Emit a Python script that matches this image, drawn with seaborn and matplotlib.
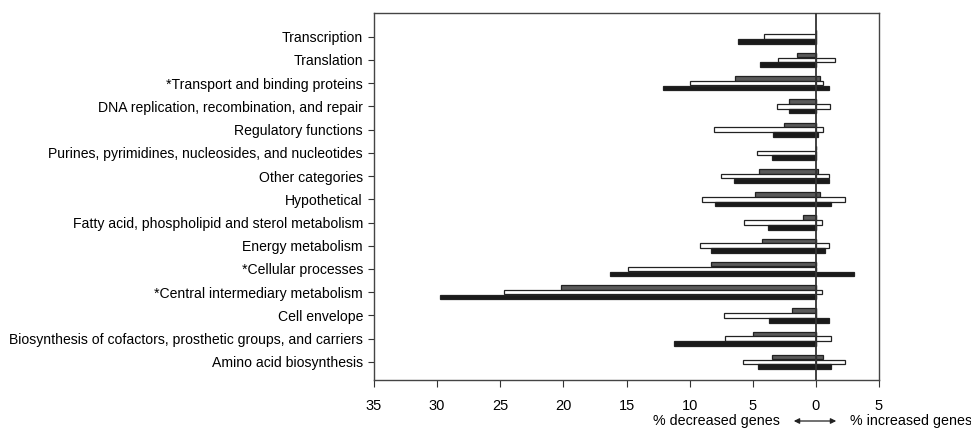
import matplotlib
matplotlib.use("Agg")
import matplotlib.pyplot as plt
import seaborn as sns
import pandas as pd
import numpy as np

categories = [
    "Transcription",
    "Translation",
    "*Transport and binding proteins",
    "DNA replication, recombination, and repair",
    "Regulatory functions",
    "Purines, pyrimidines, nucleosides, and nucleotides",
    "Other categories",
    "Hypothetical",
    "Fatty acid, phospholipid and sterol metabolism",
    "Energy metabolism",
    "*Cellular processes",
    "*Central intermediary metabolism",
    "Cell envelope",
    "Biosynthesis of cofactors, prosthetic groups, and carriers",
    "Amino acid biosynthesis",
]
series = ["A", "B", "C"]

# % decreased genes per series (gray, white, black)
dec_a = [0, 1.5, 6.4, 2.1, 2.5, 0, 4.5, 4.8, 1.0, 4.3, 8.3, 20.2, 1.9, 5.0, 3.5]
dec_b = [4.1, 3.0, 10.0, 3.1, 8.1, 4.7, 7.5, 9.0, 5.7, 9.2, 14.9, 24.7, 7.3, 7.2, 5.8]
dec_c = [6.2, 4.4, 12.1, 2.1, 3.4, 3.5, 6.5, 8.0, 3.8, 8.3, 16.3, 29.8, 3.7, 11.2, 4.6]
# % increased genes per series
inc_a = [0, 0, 0.3, 0, 0, 0, 0.2, 0.3, 0, 0, 0, 0, 0, 0, 0.6]
inc_b = [0, 1.5, 0.6, 1.1, 0.6, 0, 1.0, 2.3, 0.5, 1.0, 0, 0.5, 0, 1.2, 2.3]
inc_c = [0, 0, 1.0, 0, 0.2, 0, 1.0, 1.2, 0, 0.7, 3.0, 0, 1.0, 0, 1.2]

rows = []
for s, d, i in zip(series, [dec_a, dec_b, dec_c], [inc_a, inc_b, inc_c]):
    for c, dv, iv in zip(categories, d, i):
        rows.append({"category": c, "series": s, "dec": -dv, "inc": iv})
df = pd.DataFrame(rows)

plt.rcParams["font.family"] = ["Liberation Sans", "DejaVu Sans"]
fig = plt.figure(figsize=(9.71, 4.38), dpi=100)
ax = fig.add_axes([374 / 971, 1 - 380 / 438, 505 / 971, (380 - 13.5) / 438])

palette = {"A": "#5a5a5a", "B": "white", "C": "#1a1a1a"}
for col in ["dec", "inc"]:
    sns.barplot(data=df, x=col, y="category", hue="series", order=categories,
                hue_order=series, palette=palette, orient="h", width=0.62,
                gap=0.05, edgecolor="#222222", linewidth=0.9, legend=False, ax=ax)

ax.axvline(0, color="#333333", lw=1.3, zorder=5)
ax.set_xlim(-35, 5)
ax.set_ylim(14.78, -1.0)
ticks = np.arange(-35, 6, 5)
ax.set_xticks(ticks)
ax.set_xticklabels([str(abs(t)) for t in ticks], fontsize=10.5)
ax.tick_params(axis="y", labelsize=10.1, length=4, color="#333333", pad=4)
ax.tick_params(axis="x", length=5, color="#333333", pad=9)
ax.set_xlabel("")
ax.set_ylabel("")
for sp in ax.spines.values():
    sp.set_color("#444444")
    sp.set_linewidth(1.0)

ty = 1 - 421 / 438
fig.text(780 / 971, ty, "% decreased genes", ha="right", va="center", fontsize=10.3)
fig.text(850 / 971, ty, "% increased genes", ha="left", va="center", fontsize=10.3)
fig.add_artist(matplotlib.patches.FancyArrowPatch(
    (791 / 971, ty), (839 / 971, ty),
    transform=fig.transFigure, arrowstyle="<|-|>", mutation_scale=8,
    color="#222222", lw=0.9))

fig.savefig("out.png", dpi=100)
